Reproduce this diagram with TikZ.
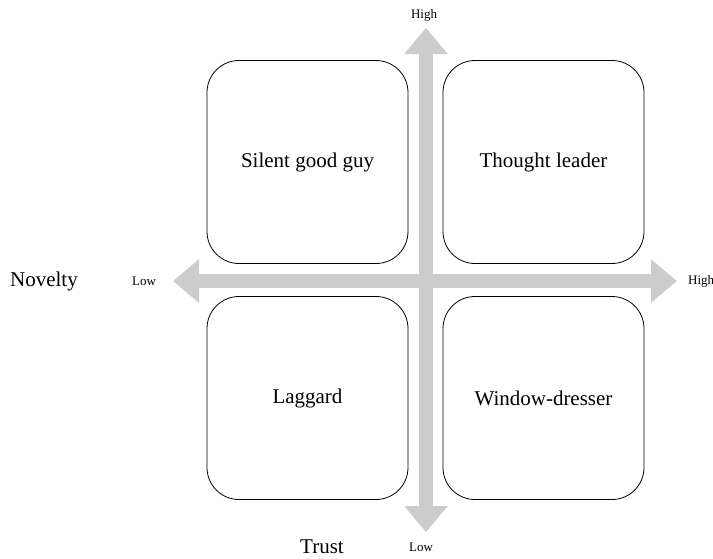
\documentclass[tikz,border=0pt]{standalone}
\usepackage{fontspec}
\setmainfont{Liberation Serif}
\usetikzlibrary{arrows.meta}
\definecolor{axisgray}{RGB}{204,204,204}
\begin{document}
\begin{tikzpicture}[x=1pt,y=-1pt,
  quadrant/.style={draw=black, line width=0.8pt, fill=white, rounded corners=32pt,
    minimum width=201pt, minimum height=203pt, inner sep=0pt,
    font=\fontsize{21}{25}\selectfont},
  axisline/.style={draw=axisgray, line width=14pt,
    {Triangle[width=42pt,length=26pt]}-{Triangle[width=42pt,length=26pt]}},
  ticklabel/.style={font=\fontsize{13}{15}\selectfont, inner sep=0pt},
  axistitle/.style={font=\fontsize{21}{25}\selectfont, inner sep=0pt}]
\useasboundingbox (0,0) rectangle (713,558);
\fill[white] (0,0) rectangle (713,558);

% axis end points
\coordinate (ytop) at (426,28);
\coordinate (ybot) at (426,532);
\coordinate (xleft) at (173,281);
\coordinate (xright) at (677,281);

% double-headed gray axes
\path[axisline] (ybot) -- (ytop);
\path[axisline] (xleft) -- (xright);

% the four quadrants
\node[quadrant] (tl) at (307.5,162) {Silent good guy};
\node[quadrant] (tr) at (543.5,162) {Thought leader};
\node[quadrant] (bl) at (307.5,398) {Laggard};
\node[quadrant] (br) at (543.5,398) {Window-dresser};

% axis end labels
\node[ticklabel] (yhigh) at (424,15) {High};
\node[ticklabel] (ylow) at (421,547) {Low};
\node[ticklabel] (xlow) at (144,281) {Low};
\node[ticklabel, anchor=west] (xhigh) at (688,281) {High};

% axis titles
\node[axistitle] (novelty) at (44,281) {Novelty};
\node[axistitle] (trust) at (322,547) {Trust};
\end{tikzpicture}
\end{document}
